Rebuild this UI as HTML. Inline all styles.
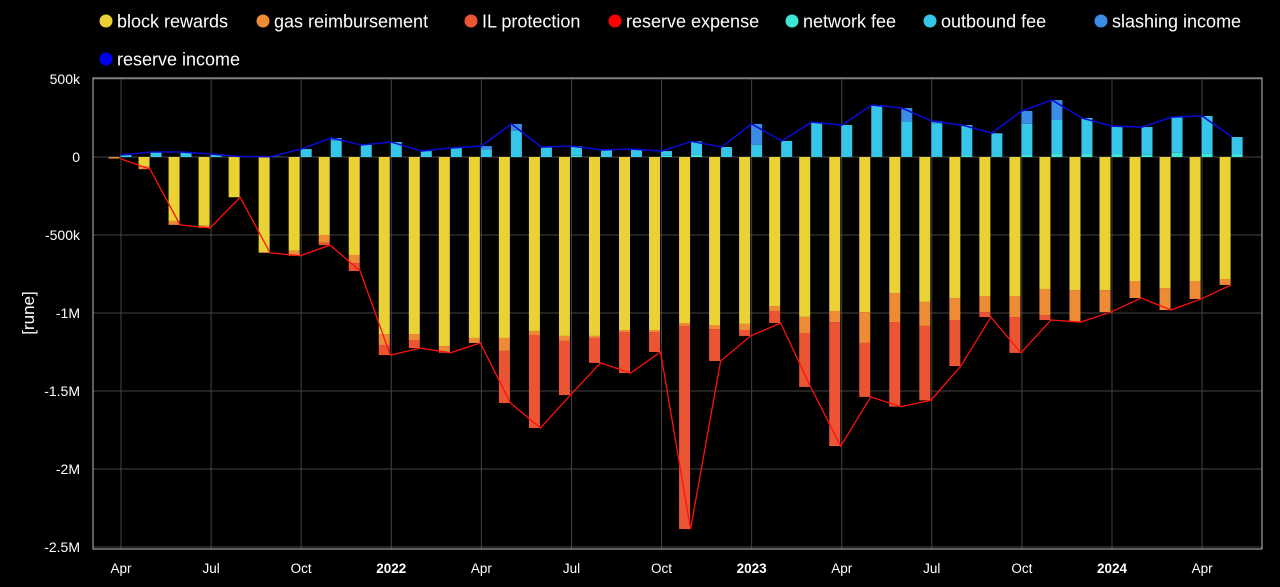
<!DOCTYPE html>
<html><head><meta charset="utf-8">
<style>
html,body{margin:0;padding:0;background:#000;width:1280px;height:587px;overflow:hidden}
svg{display:block}
text{font-family:"Liberation Sans",Arial,sans-serif}
</style></head>
<body>
<svg id="chart" width="1280" height="587" xmlns="http://www.w3.org/2000/svg"></svg>
<script>
const months=["Apr21","May21","Jun21","Jul21","Aug21","Sep21","Oct21","Nov21","Dec21","Jan22","Feb22","Mar22","Apr22","May22","Jun22","Jul22","Aug22","Sep22","Oct22","Nov22","Dec22","Jan23","Feb23","Mar23","Apr23","May23","Jun23","Jul23","Aug23","Sep23","Oct23","Nov23","Dec23","Jan24","Feb24","Mar24","Apr24","May24"];
const blockRewards=[0,58,410,440,258,610,600,500,628,1135,1135,1212,1160,1160,1115,1147,1147,1109,1109,1064,1077,1070,955,1025,987,994,872,929,904,891,891,846,853,853,795,840,795,782];
const gasReimb=[10,20,25,15,0,5,33,50,52,70,38,38,32,83,26,32,13,13,13,19,26,39,32,103,71,198,186,154,141,103,135,167,205,141,109,141,115,38];
const ilProtection=[0,0,0,0,0,0,0,15,51,65,52,5,0,334,596,347,160,263,128,1302,205,38,77,346,795,346,542,477,295,32,230,32,0,0,0,0,0,0];
const networkFee=[0,0,0,0,0,0,0,0,0,0,0,0,0,0,0,8,0,0,8,15,0,5,5,5,5,5,5,5,10,5,13,23,19,19,15,27,23,19];
const outboundFee=[10,32,32,19,3,2,51,107,77,96,38,58,50,169,64,62,45,51,30,85,64,74,98,219,200,328,224,211,195,144,200,214,231,179,177,229,240,109];
const slashingIncome=[3,0,0,0,0,0,0,15,0,0,0,0,20,43,0,0,0,0,0,0,0,133,0,0,0,0,85,15,0,5,82,128,0,0,0,0,0,0];
const yTicks=[500,0,-500,-1000,-1500,-2000,-2500];
const yTickLabels=["500k","0","-500k","-1M","-1.5M","-2M","-2.5M"];
const xTickIdx=[0,3,6,9,12,15,18,21,24,27,30,33,36];
const xTickLabels=["Apr","Jul","Oct","2022","Apr","Jul","Oct","2023","Apr","Jul","Oct","2024","Apr"];

const svg=document.getElementById('chart');
const NS='http://www.w3.org/2000/svg';
const L=93,R=1262,T=78,B=549;
const xm=i=>121+i*30.03;
const y=v=>157-v*0.156;
function mk(tag,attrs,parent){const e=document.createElementNS(NS,tag);for(const k in attrs)e.setAttribute(k,attrs[k]);(parent||svg).appendChild(e);return e;}

const grid=mk('g',{});


yTicks.forEach((v,k)=>{
  mk('line',{x1:L,x2:R,y1:y(v),y2:y(v),stroke:'#444','stroke-width':1},grid);
  const t=mk('text',{x:80,y:y(v)+5,'text-anchor':'end',fill:'#fff','font-size':14});
  t.textContent=yTickLabels[k];
  
  
});
xTickIdx.forEach((i,k)=>{
  mk('line',{x1:xm(i),x2:xm(i),y1:T,y2:B,stroke:'#444','stroke-width':1},grid);
  const t=mk('text',{x:xm(i),y:573,'text-anchor':'middle',fill:'#fff','font-size':13.5,'font-weight':/^\d/.test(xTickLabels[k])?'bold':'normal'});
  t.textContent=xTickLabels[k];
  
  
});
mk('rect',{x:L,y:T,width:R-L,height:B-T,fill:'none',stroke:'#bbb','stroke-width':1});

const yt=mk('text',{x:0,y:0,transform:'translate(34,313) rotate(-90)','text-anchor':'middle',fill:'#fff','font-size':17});
yt.textContent='[rune]';



const C={br:'#ead236',gas:'#ee8c36',il:'#eb5534',nf:'#3ee6d6',of:'#36c6ea',sl:'#3a8de6'};
const W=11;
const bars=mk('g',{});


months.forEach((m,i)=>{
  let acc=0;const xn=xm(i)-7-W/2;
  [[blockRewards,C.br,'block-rewards'],[gasReimb,C.gas,'gas-reimbursement'],[ilProtection,C.il,'il-protection']].forEach(([arr,col,nm])=>{
    const v=arr[i];if(v<=0)return;
    const r=mk('rect',{x:xn,y:y(-acc),width:W,height:y(-acc-v)-y(-acc),fill:col},bars);
    
    
    acc+=v;
  });
  let pa=0;const xp=xm(i)+5-W/2;
  [[networkFee,C.nf,'network-fee'],[outboundFee,C.of,'outbound-fee'],[slashingIncome,C.sl,'slashing-income']].forEach(([arr,col,nm])=>{
    const v=arr[i];if(v<=0)return;
    const r=mk('rect',{x:xp,y:y(pa+v),width:W,height:y(pa)-y(pa+v),fill:col},bars);
    
    
    pa+=v;
  });
});
const expPts=months.map((m,i)=>(xm(i)-1)+','+y(-(blockRewards[i]+gasReimb[i]+ilProtection[i]))).join(' ');
const incPts=months.map((m,i)=>xm(i)+','+y(networkFee[i]+outboundFee[i]+slashingIncome[i])).join(' ');
const el1=mk('polyline',{points:expPts,fill:'none',stroke:'#ff1010','stroke-width':1.3});


const el2=mk('polyline',{points:incPts,fill:'none',stroke:'#0a0acc','stroke-width':1.6});



const leg=[['block rewards',C.br,106,21],['gas reimbursement',C.gas,263,21],['IL protection',C.il,471,21],['reserve expense','#ff0000',615,21],['network fee',C.nf,792,21],['outbound fee',C.of,930,21],['slashing income',C.sl,1101,21],['reserve income','#0000ee',106,59]];
const lg=mk('g',{});


leg.forEach(([n,c,x,yy])=>{
  const g=mk('g',{},lg);
  
  
  mk('circle',{cx:x,cy:yy,r:6.5,fill:c},g);
  const t=mk('text',{x:x+11,y:yy+6.5,fill:'#fff','font-size':18},g);
  t.textContent=n;
});
</script>
</body></html>
